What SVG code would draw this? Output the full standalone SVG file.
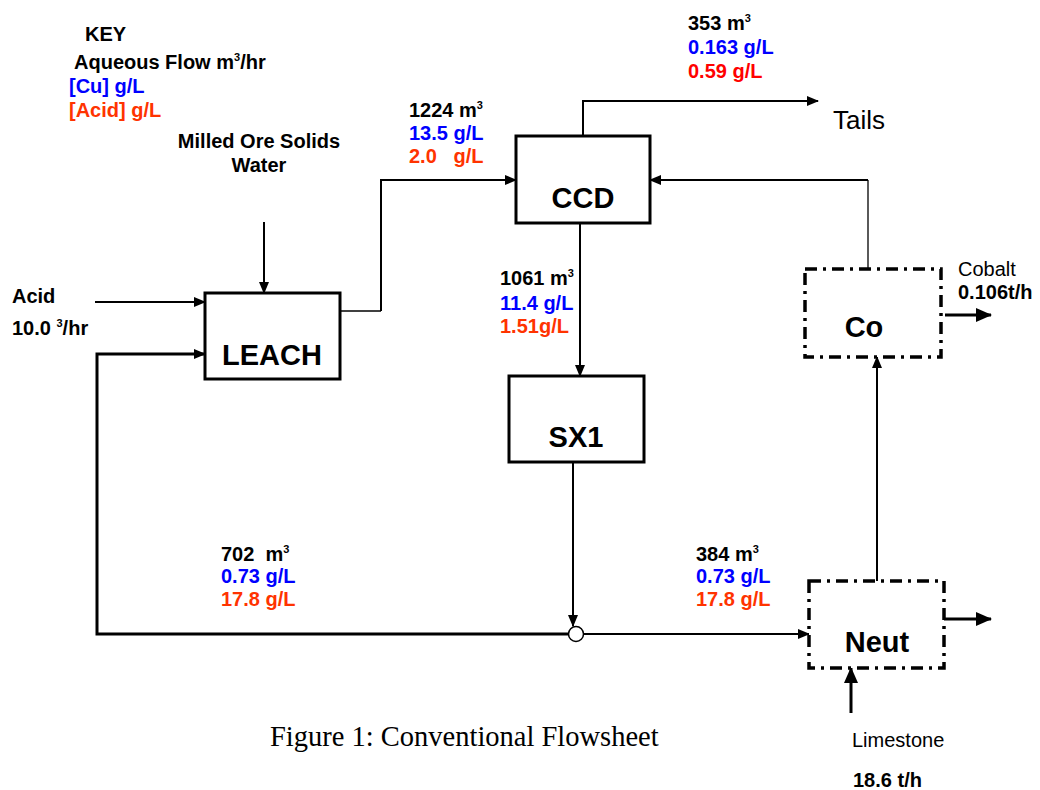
<svg xmlns="http://www.w3.org/2000/svg" width="1040" height="790" viewBox="0 0 1040 790">
<style>
.b{font-family:"Liberation Sans",Arial,sans-serif;font-weight:bold;font-size:20px;fill:#000}
.n{font-family:"Liberation Sans",Arial,sans-serif;font-size:20px;fill:#000}
.big{font-family:"Liberation Sans",Arial,sans-serif;font-weight:bold;font-size:29px;fill:#000;text-anchor:middle}
.blue{fill:#0000FF}
.org{fill:#FF3300}
.red{fill:#FF0000}
.sup{font-size:11px}
.box{fill:#fff;stroke:#000;stroke-width:3}
.dbox{fill:#fff;stroke:#000;stroke-width:3.5;stroke-dasharray:12 6 3 6}
.c{fill:none;stroke:#000;stroke-width:2}
.ct{fill:none;stroke:#000;stroke-width:1.3}
.ck{fill:none;stroke:#000;stroke-width:3}
</style>
<defs>
<marker id="a" markerUnits="userSpaceOnUse" markerWidth="12" markerHeight="10" refX="11" refY="5" orient="auto">
<path d="M0,0 L12,5 L0,10 Z" fill="#000"/>
</marker>
<marker id="ab" markerUnits="userSpaceOnUse" markerWidth="16" markerHeight="14" refX="15" refY="7" orient="auto">
<path d="M0,0 L16,7 L0,14 Z" fill="#000"/>
</marker>
</defs>
<rect width="1040" height="790" fill="#fff"/>

<g id="key">
<text class="b" x="85" y="41">KEY</text>
<text class="b" x="74" y="69">Aqueous Flow m<tspan class="sup" dy="-8">3</tspan><tspan dy="8">/hr</tspan></text>
<text class="b blue" x="69" y="93">[Cu] g/L</text>
<text class="b org" x="69" y="117">[Acid] g/L</text>
</g>

<g id="connectors">
<path class="c" d="M264,222 V293" marker-end="url(#a)"/>
<path class="c" d="M95,302 H205" marker-end="url(#a)"/>
<path class="ck" d="M576,634 H97 V354 H205" marker-end="url(#a)"/>
<path class="ct" d="M340,311 H381"/>
<path class="c" d="M381,311 V180 H516" marker-end="url(#a)"/>
<path class="c" d="M583,136 V101 H818" marker-end="url(#a)"/>
<path class="c" d="M580,223 V376" marker-end="url(#a)"/>
<path class="ct" d="M868,269 V180"/>
<path class="c" d="M868,180 H650" marker-end="url(#a)"/>
<path class="ck" d="M945,315 H991" marker-end="url(#ab)"/>
<path class="c" d="M573,462 V626" marker-end="url(#a)"/>
<path class="c" d="M583,634 H809" marker-end="url(#a)"/>
<path class="c" d="M877,581 V357" marker-end="url(#a)"/>
<path class="ck" d="M944,619 H991" marker-end="url(#ab)"/>
<path class="ck" d="M851,713 V668" marker-end="url(#ab)"/>
</g>

<g id="mix">
<ellipse cx="576" cy="634" rx="7.5" ry="7.5" fill="#fff" stroke="#000" stroke-width="1.5"/>
</g>

<g id="leach">
<rect class="box" x="205" y="293" width="135" height="86"/>
<text class="big" x="272" y="365">LEACH</text>
</g>

<g id="ccd">
<rect class="box" x="516" y="136" width="134" height="87"/>
<text class="big" x="583" y="208">CCD</text>
</g>

<g id="sx1">
<rect class="box" x="509" y="376" width="135" height="86"/>
<text class="big" x="576" y="447">SX1</text>
</g>

<g id="co">
<rect class="dbox" x="805" y="269" width="136" height="88"/>
<text class="big" x="864" y="337">Co</text>
</g>

<g id="neut">
<rect class="dbox" x="809" y="581" width="135" height="87"/>
<text class="big" x="877" y="652">Neut</text>
</g>

<g id="labels">
<text class="b" x="259" y="148" text-anchor="middle">Milled Ore Solids</text>
<text class="b" x="259" y="172" text-anchor="middle">Water</text>

<text class="b" x="409" y="117">1224 m<tspan class="sup" dy="-8">3</tspan></text>
<text class="b blue" x="409" y="140">13.5 g/L</text>
<text class="b org" x="409" y="163" xml:space="preserve">2.0   g/L</text>

<text class="b" x="688" y="30">353 m<tspan class="sup" dy="-8">3</tspan></text>
<text class="b blue" x="688" y="54">0.163 g/L</text>
<text class="b red" x="688" y="78">0.59 g/L</text>

<text class="n" x="833" y="129" style="font-size:26px">Tails</text>

<text class="b" x="12" y="303">Acid</text>
<text class="b" x="12" y="335" xml:space="preserve">10.0 <tspan class="sup" dy="-8">3</tspan><tspan dy="8">/hr</tspan></text>

<text class="b" x="500" y="285">1061 m<tspan class="sup" dy="-8">3</tspan></text>
<text class="b blue" x="500" y="310">11.4 g/L</text>
<text class="b org" x="500" y="333">1.51g/L</text>

<text class="n" x="958" y="276">Cobalt</text>
<text class="b" x="958" y="299">0.106t/h</text>

<text class="b" x="221" y="561" xml:space="preserve">702  m<tspan class="sup" dy="-8">3</tspan></text>
<text class="b blue" x="221" y="583">0.73 g/L</text>
<text class="b org" x="221" y="606">17.8 g/L</text>

<text class="b" x="696" y="561">384 m<tspan class="sup" dy="-8">3</tspan></text>
<text class="b blue" x="696" y="583">0.73 g/L</text>
<text class="b org" x="696" y="606">17.8 g/L</text>

<text class="n" x="852" y="747">Limestone</text>
<text class="b" x="853" y="787">18.6 t/h</text>

<text x="270" y="746" style="font-family:'Liberation Serif','Times New Roman',serif;font-size:28.5px;fill:#000">Figure 1: Conventional Flowsheet</text>
</g>
</svg>
